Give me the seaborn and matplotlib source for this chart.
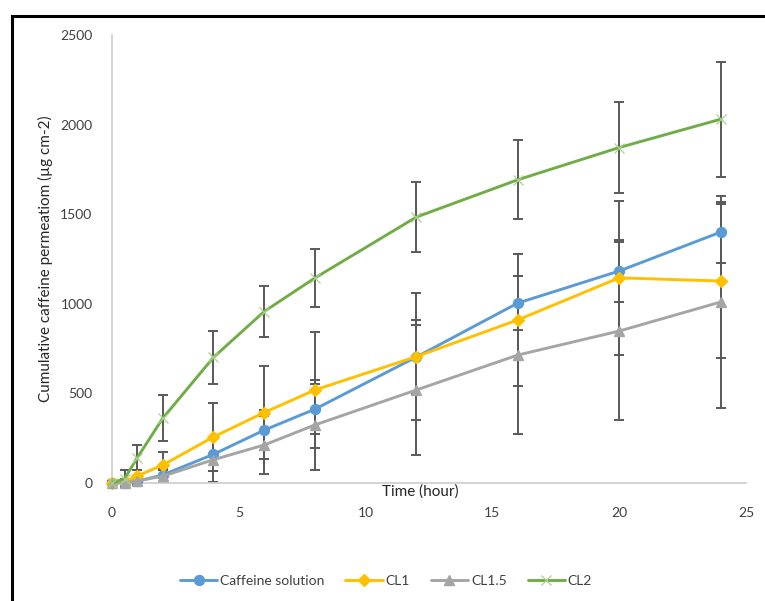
import matplotlib
matplotlib.use("Agg")
import matplotlib.pyplot as plt
from matplotlib.patches import Rectangle
import seaborn as sns
import pandas as pd

# time points (hour)
time = [0, 0.5, 1, 2, 4, 6, 8, 12, 16, 20, 24]

# cumulative permeation (ug cm-2) and SD per formulation
caffeine = [0, 2, 10, 45, 160, 295, 412, 703, 1004, 1183, 1400]
caffeine_sd = [5, 10, 20, 40, 95, 110, 140, 205, 150, 175, 170]
cl1 = [0, 8, 40, 100, 257, 393, 519, 705, 910, 1145, 1127]
cl1_sd = [5, 15, 30, 72, 190, 260, 324, 355, 367, 431, 430]
cl15 = [0, 2, 12, 38, 130, 212, 324, 519, 714, 848, 1010]
cl15_sd = [5, 10, 20, 35, 123, 162, 250, 360, 440, 496, 590]
cl2 = [0, 25, 142, 361, 701, 957, 1144, 1484, 1692, 1872, 2030]
cl2_sd = [10, 50, 70, 128, 148, 140, 162, 193, 220, 255, 320]

series_names = ["Caffeine solution", "CL1", "CL1.5", "CL2"]
values = [caffeine, cl1, cl15, cl2]
errors = [caffeine_sd, cl1_sd, cl15_sd, cl2_sd]

sns.set_style("white")
plt.rcParams["font.family"] = ["Lato", "DejaVu Sans"]

# marker style per series: (color, marker, size, mec, mew)
styles = [
    ("#5B9BD5", "o", 13, "#5B9BD5", 1),
    ("#FFC000", "D", 10.5, "#FFC000", 1),
    ("#A5A5A5", "^", 12.5, "#A5A5A5", 1),
    ("#70AD47", "x", 13, "#A9D18E", 0.9),
]

fig = plt.figure(figsize=(7.65, 6.01), dpi=100)
ax = fig.add_axes([112 / 765, 118 / 601, 634 / 765, 448 / 601])

for name, vals, sd, (col, mk, ms, mec, mew) in zip(series_names, values, errors, styles):
    df = pd.DataFrame({"time": time, "value": vals})
    ax.errorbar(time, vals, yerr=sd, fmt="none", ecolor="#595959",
                elinewidth=1.4, capsize=3.5, capthick=1.4, zorder=2, clip_on=False)
    sns.lineplot(data=df, x="time", y="value", ax=ax, color=col, linewidth=2.1,
                 marker=mk, markersize=ms, markeredgecolor=mec, markeredgewidth=mew,
                 label=name, zorder=3, clip_on=False)

ax.get_legend().remove()
ax.set_xlim(0, 25)
ax.set_ylim(0, 2500)
ax.set_xticks([0, 5, 10, 15, 20, 25])
ax.set_yticks([0, 500, 1000, 1500, 2000, 2500])
ax.tick_params(axis="x", length=0, pad=17, labelsize=10, labelcolor="#404040")
ax.tick_params(axis="y", length=0, pad=14, labelsize=10, labelcolor="#404040")
for s in ["top", "right"]:
    ax.spines[s].set_visible(False)
for s in ["left", "bottom"]:
    ax.spines[s].set_color("#D0D0D0")
    ax.spines[s].set_linewidth(1.3)
ax.set_xlabel("")
ax.set_ylabel("")

fig.text(420 / 765, 1 - 492 / 601, "Time (hour)", ha="center", va="center",
         fontsize=11, color="#262626")
fig.text(45 / 765, 1 - 259 / 601, "Cumulative caffeine permeatiom (\u00b5g cm-2)",
         rotation=90, ha="center", va="center", fontsize=11, color="#262626")

handles, labels = ax.get_legend_handles_labels()
for h in handles:
    h.set_markersize(h.get_markersize() * 0.55)
leg = fig.legend(handles, labels, loc="center", bbox_to_anchor=(386 / 765, 1 - 581 / 601),
                 ncol=4, frameon=False, fontsize=10, handlelength=2.7,
                 columnspacing=1.5, handletextpad=0.2)
for t in leg.get_texts():
    t.set_color("#404040")

# outer chart border (cropped on right and bottom)
fig.add_artist(Rectangle((12 / 765, -0.2), 2, 1.2 - 16 / 601, transform=fig.transFigure,
                         fill=False, edgecolor="black", linewidth=2.2))

fig.savefig("out.png", dpi=100)
